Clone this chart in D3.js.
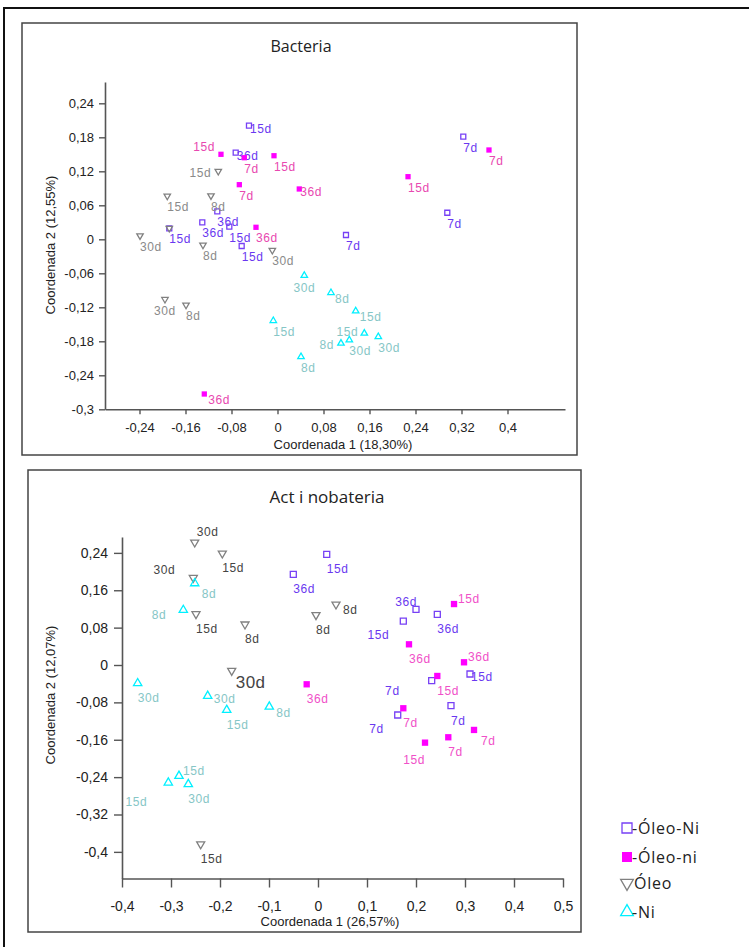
<!DOCTYPE html>
<html>
<head>
<meta charset="utf-8">
<script src="https://cdn.jsdelivr.net/npm/d3@7"></script>
<style>
  body { margin: 0; background: #fff; }
  svg { display: block; }
</style>
</head>
<body>
<div id="chart"></div>
<script>
// ---------------- data ----------------
// Bacteria (top panel), [coord 1, coord 2]
const bacOleoNi = [[-0.0496,0.2005],[-0.0727,0.1528],[-0.1047,0.0494],[-0.1308,0.0300],[-0.0838,0.0222],
  [-0.0623,-0.0118],[0.3231,0.1811],[0.2953,0.0469],[0.1191,0.0076],[-0.1882,0.0194]];
const bacOleoNiDays = ["15d","36d","36d","36d","15d","15d","7d","7d","7d","15d"];
const bacOleoni = [[-0.0983,0.1500],[-0.0577,0.1440],[-0.0061,0.1475],[-0.0664,0.0964],[0.0379,0.0888],
  [-0.0374,0.0212],[0.2270,0.1105],[0.3678,0.1576],[-0.1273,-0.2730]];
const bacOleoniDays = ["15d","7d","15d","7d","36d","36d","15d","7d","36d"];
const bacOleo = [[-0.1030,0.1200],[-0.1917,0.0764],[-0.1157,0.0769],[-0.2391,0.0064],[-0.1882,0.0194],
  [-0.1296,-0.0101],[-0.0090,-0.0194],[-0.1957,-0.1059],[-0.1591,-0.1159]];
const bacOleoDays = ["15d","15d","8d","30d","","8d","30d","30d","8d"];
const bacNi = [[0.0466,-0.0639],[-0.0073,-0.1436],[0.0409,-0.2072],[0.0930,-0.0942],[0.1360,-0.1265],
  [0.1510,-0.1659],[0.1249,-0.1777],[0.1104,-0.1835],[0.1753,-0.1719]];
const bacNiDays = ["30d","15d","8d","8d","15d","15d","30d","8d","30d"];

// Actinobateria (bottom panel)
const actOleoNi = [[0.0178,0.2368],[-0.0504,0.1940],[0.2000,0.1191],[0.2435,0.1084],[0.1741,0.0941],
  [0.2320,-0.0336],[0.3102,-0.0193],[0.2714,-0.0871],[0.1627,-0.1070]];
const actOleoNiDays = ["15d","36d","36d","36d","15d","7d","15d","7d","7d"];
const actOleoni = [[0.2776,0.1305],[0.1857,0.0443],[0.2980,0.0058],[0.2435,-0.0235],[0.1741,-0.0926],
  [0.3184,-0.1390],[0.2659,-0.1547],[0.2184,-0.1662],[-0.0231,-0.0413]];
const actOleoniDays = ["15d","36d","36d","15d","7d","7d","7d","15d","36d"];
const actOleo = [[-0.2516,0.2625],[-0.1953,0.2389],[-0.2545,0.1867],[-0.2490,0.1091],[-0.1490,0.0871],
  [-0.0041,0.1070],[0.0367,0.1298],[-0.1761,-0.0122],[-0.2394,-0.3835]];
const actOleoDays = ["30d","15d","30d","15d","8d","8d","8d","30d","15d"];
const actNi = [[-0.2516,0.1748],[-0.2749,0.1176],[-0.3680,-0.0391],[-0.2251,-0.0663],[-0.1863,-0.0963],
  [-0.0994,-0.0892],[-0.2837,-0.2374],[-0.3055,-0.2518],[-0.2647,-0.2552]];
const actNiDays = ["8d","8d","30d","30d","15d","8d","15d","15d","30d"];

// ticks
const bacXTicks = [-0.24,-0.16,-0.08,0,0.08,0.16,0.24,0.32,0.4];
const bacYTicks = [0.24,0.18,0.12,0.06,0,-0.06,-0.12,-0.18,-0.24,-0.3];
const actXTicks = [-0.4,-0.3,-0.2,-0.1,0,0.1,0.2,0.3,0.4,0.5];
const actYTicks = [0.24,0.16,0.08,0,-0.08,-0.16,-0.24,-0.32,-0.4];

const legendNames = ["-Óleo-Ni","-Óleo-ni","Óleo","-Ni"];

// where each day label sits around its marker (placement codes)
const bacOleoNiPos = ["r","r","b","b","b","b","b","b","b","b"];
const bacOleoniPos = ["tl","b","b","b","r","b","b","b","br"];
const bacOleoPos = ["l","b","b","b","b","b","b","bc","b"];
const bacNiPos = ["bc","b","b","br","br","lm","b","l","b"];
const actOleoNiPos = ["bb","bb","ul","bb","bl","lff","r","bb","bl"];
const actOleoniPos = ["ur","bb","ur","bb","bb","bR","bb","bL","bb"];
const actOleoPos = ["tr","bb","tlf","bb","bb","bb","br7","big","bb"];
const actNiPos = ["bR","lf","bb","r2","bb","br7","ur","blf","bb"];

const place = {
  b:[0,15,"start"], bb:[0,19,"start"], bc:[0,16,"middle"], r:[1,7,"start"], r2:[6,7,"start"],
  br:[4,10,"start"], br7:[7,10,"start"], bR:[7,15,"start"], ur:[4,-1,"start"], tr:[2,-6,"start"],
  l:[-7,6,"end"], lm:[-6,3,"end"], lf:[-17,9,"end"], lff:[-32,14,"end"], tl:[-6,-3,"end"],
  tlf:[-18,-4,"end"], ul:[1,-3,"end"], bl:[-14,18,"end"], blf:[-21,23,"end"], bL:[0,21,"end"],
  big:[4,17,"start"]
};

// ---------------- drawing ----------------
const W = 749, H = 947;
const svg = d3.select("#chart").append("svg").attr("width", W).attr("height", H);

// outer frame
svg.append("rect").attr("x", 4).attr("y", 8).attr("width", 820).attr("height", 1000)
  .attr("fill", "none").attr("stroke", "#111").attr("stroke-width", 2);

const fmt = d => String(d).replace(".", ",");
const axisFont = "'Liberation Sans', Arial, sans-serif";

function drawMarker(g, kind, size, color) {
  if (kind === "open") {
    g.append("path").attr("d", d3.symbol(d3.symbolSquare, size)())
      .attr("fill", "none").attr("stroke", color).attr("stroke-width", 1.3);
  } else if (kind === "filled") {
    g.append("path").attr("d", d3.symbol(d3.symbolSquare, size)()).attr("fill", color);
  } else {
    g.append("path").attr("d", d3.symbol(d3.symbolTriangle, size)())
      .attr("transform", kind === "down" ? "rotate(180)" : null)
      .attr("fill", "none").attr("stroke", color).attr("stroke-width", 1.3);
  }
}

function drawPanel(p) {
  svg.append("rect").attr("x", p.box[0]).attr("y", p.box[1]).attr("width", p.box[2]).attr("height", p.box[3])
    .attr("fill", "none").attr("stroke", "#444").attr("stroke-width", 1.5);

  svg.append("text").attr("x", p.titleX).attr("y", p.titleY).attr("text-anchor", "middle")
    .attr("font-family", "'Open Sans', sans-serif").attr("font-size", p.titleSize).attr("fill", "#222")
    .text(p.title);

  const x = d3.scaleLinear().domain(p.xDomain).range(p.xRange);
  const y = d3.scaleLinear().domain(p.yDomain).range(p.yRange);

  const gx = svg.append("g").attr("transform", "translate(0," + p.yRange[0] + ")")
    .call(d3.axisBottom(x).tickValues(p.xTicks).tickFormat(fmt).tickSizeInner(p.xTickSize).tickSizeOuter(0).tickPadding(p.xPad));
  const gy = svg.append("g").attr("transform", "translate(" + p.xRange[0] + ",0)")
    .call(d3.axisLeft(y).tickValues(p.yTicks).tickFormat(fmt).tickSizeInner(p.yTickSize).tickSizeOuter(0).tickPadding(p.yPad));
  [gx, gy].forEach(g => {
    g.select(".domain").attr("stroke", "#555").attr("stroke-width", 1.6);
    g.selectAll(".tick line").attr("stroke", "#555").attr("stroke-width", 1.4);
    g.selectAll(".tick text").attr("font-family", axisFont).attr("font-size", p.tickFont).attr("fill", "#222");
  });

  svg.append("text").attr("x", p.xLabelPos[0]).attr("y", p.xLabelPos[1]).attr("text-anchor", "middle")
    .attr("font-family", axisFont).attr("font-size", 13).attr("fill", "#222").text(p.xLabel);
  svg.append("text").attr("transform", "translate(" + p.yLabelPos[0] + "," + p.yLabelPos[1] + ") rotate(-90)")
    .attr("text-anchor", "middle").attr("font-family", axisFont).attr("font-size", 13).attr("fill", "#222")
    .text(p.yLabel);

  p.series.forEach(s => {
    const g = svg.append("g");
    s.pts.forEach((d, i) => {
      const m = g.append("g").attr("transform", "translate(" + x(d[0]) + "," + y(d[1]) + ")");
      drawMarker(m, s.kind, s.size, s.color);
      if (!s.days[i]) return;
      const pl = place[s.pos[i]];
      const big = s.pos[i] === "big";
      m.append("text").attr("x", pl[0]).attr("y", pl[1]).attr("text-anchor", pl[2])
        .attr("font-family", axisFont).attr("font-size", big ? 17 : 12)
        .attr("letter-spacing", big ? 0.5 : 0.6)
        .attr("fill", big ? "#444" : s.labelColor).text(s.days[i]);
    });
  });
}

const purple = "#7740f5", pink = "#ff00ff", gray = "#808080", cyan = "#00f0ff";

drawPanel({
  box: [22, 23, 555, 432], title: "Bacteria", titleX: 301, titleY: 52, titleSize: 16,
  xDomain: [-0.3, 0.5], xRange: [105, 565], yDomain: [-0.3, 0.2776], yRange: [409.3, 82],
  xTicks: bacXTicks, yTicks: bacYTicks, xTickSize: 5, xPad: 8, yTickSize: 6, yPad: 5, tickFont: 13,
  xLabel: "Coordenada 1 (18,30%)", xLabelPos: [343, 449],
  yLabel: "Coordenada 2 (12,55%)", yLabelPos: [55, 245],
  series: [
    { pts: bacOleoNi, days: bacOleoNiDays, pos: bacOleoNiPos, kind: "open", size: 25, color: purple, labelColor: "#6a38f0" },
    { pts: bacOleoni, days: bacOleoniDays, pos: bacOleoniPos, kind: "filled", size: 28, color: pink, labelColor: "#e848b0" },
    { pts: bacOleo, days: bacOleoDays, pos: bacOleoPos, kind: "down", size: 18, color: gray, labelColor: "#8a8a8a" },
    { pts: bacNi, days: bacNiDays, pos: bacNiPos, kind: "up", size: 18, color: cyan, labelColor: "#86c6c6" }
  ]
});

drawPanel({
  box: [28, 470, 553, 462], title: "Act i nobateria", titleX: 327, titleY: 503, titleSize: 17,
  xDomain: [-0.4, 0.5], xRange: [122, 563], yDomain: [-0.457, 0.274], yRange: [878.5, 537],
  xTicks: actXTicks, yTicks: actYTicks, xTickSize: 9, xPad: 14, yTickSize: 8, yPad: 6, tickFont: 14,
  xLabel: "Coordenada 1 (26,57%)", xLabelPos: [330, 926],
  yLabel: "Coordenada 2 (12,07%)", yLabelPos: [55, 695],
  series: [
    { pts: actOleoNi, days: actOleoNiDays, pos: actOleoNiPos, kind: "open", size: 36, color: purple, labelColor: "#6a38f0" },
    { pts: actOleoni, days: actOleoniDays, pos: actOleoniPos, kind: "filled", size: 40, color: pink, labelColor: "#f050c8" },
    { pts: actOleo, days: actOleoDays, pos: actOleoPos, kind: "down", size: 28, color: gray, labelColor: "#444" },
    { pts: actNi, days: actNiDays, pos: actNiPos, kind: "up", size: 30, color: cyan, labelColor: "#86c6c6" }
  ]
});

// legend (rows are not evenly spaced in the original)
const legKinds = ["open", "filled", "down", "up"];
const legColors = [purple, pink, gray, cyan];
const legY = d3.scaleOrdinal().domain(legendNames).range([828, 857, 883, 912]);
legendNames.forEach((name, i) => {
  const g = svg.append("g").attr("transform", "translate(627," + legY(name) + ")");
  drawMarker(g, legKinds[i], i < 2 ? 100 : 70, legColors[i]);
  g.append("text").attr("x", i === 2 ? 7 : 5).attr("y", 6).attr("font-family", "'Open Sans', sans-serif")
    .attr("font-size", 16).attr("letter-spacing", 0.8).attr("fill", "#222").text(name);
});
</script>
</body>
</html>
